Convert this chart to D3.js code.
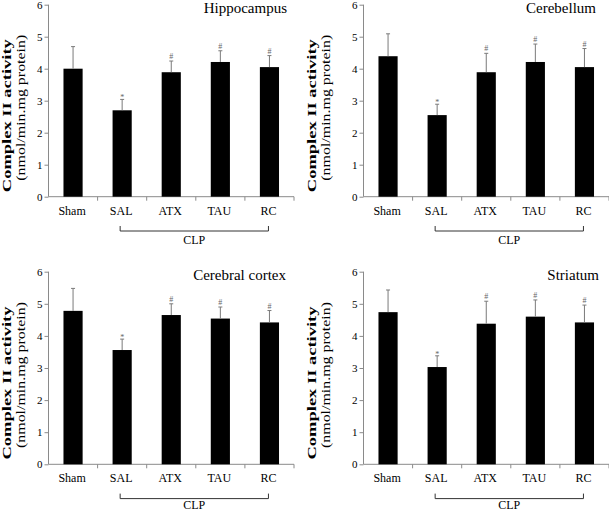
<!DOCTYPE html>
<html>
<head>
<meta charset="utf-8">
<script src="https://cdn.jsdelivr.net/npm/d3@7/dist/d3.min.js"></script>
<style>
  html, body { margin: 0; padding: 0; background: #fff; }
  svg { display: block; }
  text { font-family: "Liberation Serif", "Times New Roman", serif; }
</style>
</head>
<body>
<svg id="chart" width="609" height="510"></svg>
<script>
const categories = ["Sham", "SAL", "ATX", "TAU", "RC"];
const regions = ["Hippocampus", "Cerebellum", "Cerebral cortex", "Striatum"];
const hippocampusMean = [4.00, 2.70, 3.89, 4.21, 4.05];
const hippocampusErr  = [0.69, 0.34, 0.35, 0.35, 0.36];
const cerebellumMean  = [4.39, 2.55, 3.89, 4.21, 4.05];
const cerebellumErr   = [0.70, 0.34, 0.59, 0.56, 0.58];
const cortexMean      = [4.78, 3.56, 4.65, 4.54, 4.42];
const cortexErr       = [0.70, 0.34, 0.35, 0.36, 0.37];
const striatumMean    = [4.74, 3.03, 4.38, 4.60, 4.42];
const striatumErr     = [0.69, 0.35, 0.70, 0.52, 0.54];
const markers = ["", "*", "#", "#", "#"];
const yTicks = [0, 1, 2, 3, 4, 5, 6];
const groupLabel = "CLP";
const yLabelBold = "Complex II activity";
const yLabelUnit = "(nmol/min.mg protein)";

const seriesMeans = [hippocampusMean, cerebellumMean, cortexMean, striatumMean];
const seriesErrs = [hippocampusErr, cerebellumErr, cortexErr, striatumErr];

// layout (pixels)
const layout = [
  { x0: 48.5, x1: 294, yTop: 4.7, yBot: 196.7, ox: 0, titleX: 287, clpY: 244 },
  { x0: 363.5, x1: 609, yTop: 4.7, yBot: 196.7, ox: 305, titleX: 596, clpY: 244 },
  { x0: 48.5, x1: 294, yTop: 271.7, yBot: 464.3, ox: 0, titleX: 286, clpY: 508.5 },
  { x0: 363.5, x1: 609, yTop: 271.7, yBot: 464.3, ox: 305, titleX: 599, clpY: 508.5 }
];

const svg = d3.select("#chart");
const axisColor = "#8a8a8a";
const errColor = "#7a7a7a";

regions.forEach((region, i) => {
  const L = layout[i];
  const means = seriesMeans[i];
  const errs = seriesErrs[i];
  const g = svg.append("g");

  const x = d3.scaleBand().domain(categories).range([L.x0, L.x1]).padding(0);
  const y = d3.scaleLinear().domain([0, 6]).range([L.yBot, L.yTop]);
  const barW = x.bandwidth() * 0.39;
  const cx = c => x(c) + x.bandwidth() / 2;

  // y axis
  const yAxis = g.append("g")
    .attr("transform", `translate(${L.x0},0)`)
    .call(d3.axisLeft(y).tickValues(yTicks).tickFormat(d3.format("d")).tickSize(4).tickPadding(2));
  yAxis.select(".domain").attr("stroke", axisColor).attr("d", `M0,${L.yTop}V${L.yBot}`);
  yAxis.selectAll(".tick line").attr("stroke", axisColor);
  yAxis.selectAll(".tick text").attr("font-size", 11).attr("fill", "#000")
    .style("font-family", "'Liberation Serif', serif");

  // x axis (ticks at category boundaries)
  const xAxis = g.append("g").attr("transform", `translate(0,${L.yBot})`);
  xAxis.append("line").attr("x1", L.x0).attr("x2", L.x1).attr("stroke", axisColor);
  const bounds = categories.map(c => x(c)).concat([x(categories[categories.length - 1]) + x.bandwidth()]);
  xAxis.selectAll("line.bt").data(bounds.slice(1)).join("line")
    .attr("class", "bt").attr("x1", d => d).attr("x2", d => d)
    .attr("y1", 0).attr("y2", 4).attr("stroke", axisColor);
  xAxis.selectAll("text.cat").data(categories).join("text")
    .attr("class", "cat").attr("x", d => cx(d) - 1).attr("y", 18)
    .attr("text-anchor", "middle").attr("font-size", 12).text(d => d);

  // bars
  g.selectAll("rect.bar").data(categories).join("rect")
    .attr("class", "bar")
    .attr("x", (d, j) => cx(d) - barW / 2)
    .attr("width", barW)
    .attr("y", (d, j) => y(means[j]))
    .attr("height", (d, j) => y(0) - y(means[j]))
    .attr("fill", "#000");

  // error bars (upper only)
  g.selectAll("line.err").data(categories).join("line")
    .attr("class", "err")
    .attr("x1", d => cx(d)).attr("x2", d => cx(d))
    .attr("y1", (d, j) => y(means[j]))
    .attr("y2", (d, j) => y(means[j] + errs[j]))
    .attr("stroke", errColor).attr("stroke-width", 1);
  g.selectAll("line.cap").data(categories).join("line")
    .attr("class", "cap")
    .attr("x1", d => cx(d) - 2).attr("x2", d => cx(d) + 2)
    .attr("y1", (d, j) => y(means[j] + errs[j]))
    .attr("y2", (d, j) => y(means[j] + errs[j]))
    .attr("stroke", errColor).attr("stroke-width", 1);

  // significance markers
  g.selectAll("text.mk").data(categories).join("text")
    .attr("class", "mk")
    .attr("x", d => cx(d))
    .attr("y", (d, j) => y(means[j] + errs[j]) - (markers[j] === "*" ? -1 : 2))
    .attr("text-anchor", "middle").attr("font-size", 8).attr("fill", "#666")
    .text((d, j) => markers[j]);

  // CLP bracket
  const bx0 = cx("SAL") - 2, bx1 = cx("RC") - 1, by = L.yBot + 34.3;
  g.append("path")
    .attr("d", `M${bx0},${by - 5}V${by}H${bx1}V${by - 5}`)
    .attr("fill", "none").attr("stroke", "#333").attr("stroke-width", 1);
  g.append("text").attr("x", (bx0 + bx1) / 2).attr("y", L.clpY)
    .attr("text-anchor", "middle").attr("font-size", 12).text(groupLabel);

  // title
  g.append("text").attr("x", L.titleX).attr("y", L.yTop + 8.5)
    .attr("text-anchor", "end").attr("font-size", 15).text(region);

  // y labels
  const midB = (L.yTop + L.yBot) / 2 + 15;
  const midU = (L.yTop + L.yBot) / 2 + 7;
  g.append("text")
    .attr("transform", `translate(${L.ox + 10.5},${midB}) rotate(-90)`)
    .attr("text-anchor", "middle").attr("font-size", 12).attr("font-weight", "bold")
    .attr("textLength", 153).attr("lengthAdjust", "spacingAndGlyphs")
    .text(yLabelBold);
  g.append("text")
    .attr("transform", `translate(${L.ox + 25},${midU}) rotate(-90)`)
    .attr("text-anchor", "middle").attr("font-size", 12)
    .attr("textLength", 146).attr("lengthAdjust", "spacingAndGlyphs")
    .text(yLabelUnit);
});
</script>
</body>
</html>
